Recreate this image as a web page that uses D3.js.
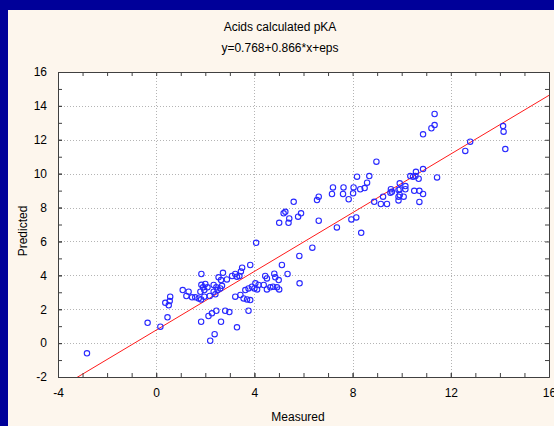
<!DOCTYPE html>
<html>
<head>
<meta charset="utf-8">
<script src="https://cdn.jsdelivr.net/npm/d3@7"></script>
<style>
  html, body { margin: 0; padding: 0; background: #000099; overflow: hidden; }
  text { font-family: "Liberation Sans", Arial, sans-serif; fill: #000; }
</style>
</head>
<body>
<div id="root"></div>
<script>
// chart data
const title = "Acids calculated pKA";
const subtitle = "y=0.768+0.866*x+eps";
const xLabel = "Measured";
const yLabel = "Predicted";
const intercept = 0.768;
const slope = 0.866;

const xTicks = [-4, 0, 4, 8, 12, 16];
const yTicks = [-2, 0, 2, 4, 6, 8, 10, 12, 14, 16];

const measured = [
  -2.82, -0.35, 0.17, 0.46, 0.37, 0.51, 0.55, 0.57, 1.08, 1.32, 1.23, 1.46, 1.59, 1.73, 1.83, 1.96, 2.18,
  1.84, 1.84, 2.00, 2.09, 1.91, 1.96, 1.80, 2.34, 2.45, 2.61, 2.68, 2.50, 2.34, 2.41,
  2.72, 2.54, 2.64, 2.88, 3.09, 3.22, 3.29, 3.50, 3.45, 3.39, 3.83, 4.07, 5.01,
  4.44, 4.51, 4.81, 4.85, 4.99, 4.38, 4.17, 4.04, 4.00, 4.11, 3.90, 3.76, 3.63, 4.51, 4.65, 4.92, 4.76, 5.01,
  3.22, 3.43, 3.56, 3.70, 3.83, 3.76, 2.45, 2.27, 2.13, 1.83, 2.81, 2.98, 2.64, 3.29, 2.38, 2.20,
  5.12, 5.35, 5.84, 5.83, 6.36, 5.19, 5.26, 5.39, 5.42, 5.78, 5.90, 6.62, 7.36, 7.95, 8.15, 8.35,
  5.60, 6.55, 6.62, 7.84, 7.20, 7.16, 7.63, 7.61, 8.04, 8.02, 8.31, 8.49, 8.59, 8.18, 8.68, 8.97,
  8.88, 9.15, 9.40, 9.24, 9.56, 9.54, 9.87, 9.87, 9.92, 9.87, 10.15, 9.92, 10.15, 9.60, 9.92, 10.08,
  10.51, 10.72, 10.87, 10.72, 10.87, 10.58, 10.35, 10.56, 10.69, 10.46, 11.44,
  10.87, 11.21, 11.34, 11.34, 12.59, 12.79, 14.13, 14.15, 14.22
];
const predicted = [
  -0.60, 1.20, 0.97, 1.52, 2.38, 2.23, 2.48, 2.74, 3.13, 3.03, 2.78, 2.70, 2.70, 2.64, 2.58, 2.74, 2.78,
  4.08, 3.44, 3.49, 3.29, 3.29, 3.13, 3.03, 3.43, 3.29, 3.23, 3.38, 3.13, 3.03, 2.88,
  4.15, 3.88, 3.72, 3.76, 3.96, 4.08, 3.92, 4.45, 4.23, 3.96, 4.61, 5.92, 7.10,
  3.96, 3.82, 4.10, 3.88, 3.72, 3.43, 3.43, 3.53, 3.23, 3.17, 3.33, 3.23, 3.13, 3.17, 3.29, 3.29, 3.33, 3.17,
  2.74, 2.84, 2.64, 2.58, 2.54, 1.91, 1.91, 1.76, 1.60, 1.26, 1.91, 1.83, 1.26, 0.93, 0.53, 0.14,
  4.61, 4.08, 3.53, 5.14, 5.63, 7.66, 7.75, 7.10, 7.36, 7.46, 7.66, 7.22, 6.83, 7.30, 7.42, 6.51,
  8.34, 8.44, 8.64, 8.49, 9.19, 8.80, 9.19, 8.80, 9.19, 8.84, 9.08, 9.15, 9.47, 9.82, 9.86, 10.71,
  8.34, 8.21, 8.21, 8.64, 9.08, 8.88, 9.04, 8.64, 9.43, 8.42, 9.27, 9.08, 9.08, 8.93, 8.74, 8.64,
  8.99, 8.99, 8.80, 8.33, 10.27, 10.11, 9.86, 9.86, 9.70, 9.82, 9.78,
  12.32, 12.68, 12.87, 13.52, 11.34, 11.89, 12.81, 12.48, 11.45
];

const W = 554, H = 426;
const plot = { left: 58, top: 72, right: 549, bottom: 377 };

const svg = d3.select('#root').append('svg')
  .attr('width', W)
  .attr('height', H)
  .style('display', 'block');

// cream panel inside the blue frame
svg.append('rect')
  .attr('x', 8).attr('y', 10)
  .attr('width', W - 8).attr('height', H - 10)
  .attr('fill', '#fdf6ed');

const x = d3.scaleLinear().domain([-4, 16]).range([plot.left, plot.right]);
const y = d3.scaleLinear().domain([-2, 16]).range([plot.bottom, plot.top]);

svg.append('rect')
  .attr('x', plot.left).attr('y', plot.top)
  .attr('width', plot.right - plot.left).attr('height', plot.bottom - plot.top)
  .attr('fill', '#ffffff');

// dotted grid at the labelled ticks
const grid = svg.append('g').attr('stroke', '#b4b4b4').attr('stroke-dasharray', '1,2').attr('stroke-width', 1);
grid.selectAll('.gx').data(xTicks.slice(1, -1)).enter().append('line')
  .attr('x1', d => Math.round(x(d)) + 0.5).attr('x2', d => Math.round(x(d)) + 0.5)
  .attr('y1', plot.top).attr('y2', plot.bottom);
grid.selectAll('.gy').data(yTicks.slice(1, -1)).enter().append('line')
  .attr('y1', d => Math.round(y(d)) + 0.5).attr('y2', d => Math.round(y(d)) + 0.5)
  .attr('x1', plot.left).attr('x2', plot.right);

// regression line, clipped to the plot
svg.append('clipPath').attr('id', 'clip').append('rect')
  .attr('x', plot.left).attr('y', plot.top)
  .attr('width', plot.right - plot.left).attr('height', plot.bottom - plot.top);

const xs = [-4, 16];
svg.append('line')
  .attr('clip-path', 'url(#clip)')
  .attr('x1', x(xs[0])).attr('y1', y(intercept + slope * xs[0]))
  .attr('x2', x(xs[1])).attr('y2', y(intercept + slope * xs[1]))
  .attr('stroke', '#ff1a1a')
  .attr('stroke-width', 1);

// points
svg.append('g').selectAll('circle')
  .data(measured.map((m, i) => [m, predicted[i]]))
  .enter().append('circle')
  .attr('cx', d => x(d[0]))
  .attr('cy', d => y(d[1]))
  .attr('r', 2.7)
  .attr('fill', 'none')
  .attr('stroke', '#2828ff')
  .attr('stroke-width', 1.1);

// axes: inward ticks on all four sides
const minorX = d3.range(-4, 16.01, 1);
const minorY = d3.range(-2, 16.01, 1);
const plain = d => String(d);   // plain hyphen for negatives, as in the picture

function styleAxis(g) {
  g.select('.domain').attr('stroke', '#404040');
  g.selectAll('.tick line').attr('stroke', '#404040');
  g.selectAll('.tick text').attr('font-size', 12).attr('font-family', '"Liberation Sans", Arial, sans-serif');
}

svg.append('g').attr('transform', `translate(0,${plot.bottom})`)
  .call(d3.axisBottom(x).tickValues(minorX).tickSize(-4).tickSizeOuter(0).tickFormat(''))
  .call(styleAxis);
svg.append('g').attr('transform', `translate(0,${plot.bottom})`)
  .call(d3.axisBottom(x).tickValues(xTicks).tickSize(-4).tickSizeOuter(0).tickPadding(11).tickFormat(plain))
  .call(styleAxis);

svg.append('g').attr('transform', `translate(0,${plot.top})`)
  .call(d3.axisTop(x).tickValues(minorX).tickSize(-4).tickSizeOuter(0).tickFormat(''))
  .call(styleAxis);

svg.append('g').attr('transform', `translate(${plot.left},0)`)
  .call(d3.axisLeft(y).tickValues(minorY).tickSize(-4).tickSizeOuter(0).tickFormat(''))
  .call(styleAxis);
svg.append('g').attr('transform', `translate(${plot.left},0)`)
  .call(d3.axisLeft(y).tickValues(yTicks).tickSize(-4).tickSizeOuter(0).tickPadding(11).tickFormat(plain))
  .call(styleAxis);

svg.append('g').attr('transform', `translate(${plot.right},0)`)
  .call(d3.axisRight(y).tickValues(minorY).tickSize(-4).tickSizeOuter(0).tickFormat(''))
  .call(styleAxis);

// titles
svg.append('text').attr('x', 280).attr('y', 31).attr('text-anchor', 'middle')
  .attr('font-size', 12).text(title);
svg.append('text').attr('x', 280).attr('y', 52).attr('text-anchor', 'middle')
  .attr('font-size', 12).text(subtitle);
svg.append('text').attr('x', 298).attr('y', 421).attr('text-anchor', 'middle')
  .attr('font-size', 12).text(xLabel);
svg.append('text')
  .attr('transform', 'translate(27,231) rotate(-90)')
  .attr('text-anchor', 'middle')
  .attr('font-size', 12).text(yLabel);
</script>
</body>
</html>
